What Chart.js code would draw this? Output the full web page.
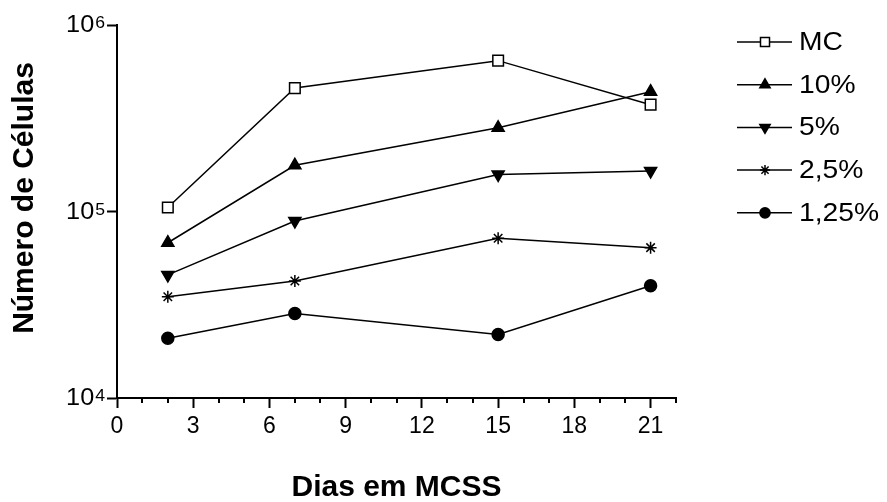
<!DOCTYPE html>
<html>
<head>
<meta charset="utf-8">
<script src="https://cdn.jsdelivr.net/npm/chart.js@4.4.0/dist/chart.umd.min.js"></script>
<style>
  html, body { margin: 0; padding: 0; background: #fff; }
  #wrap { width: 887px; height: 502px; }
</style>
</head>
<body>
<div id="wrap"><canvas id="cells"></canvas></div>
<script>
// days in culture and cell counts per condition
const dias = [2, 7, 15, 21];
const mc = [105000, 459000, 644000, 374000];
const p10 = [68000, 177000, 281000, 439000];
const p5 = [45700, 89000, 158000, 165000];
const p25 = [34900, 42400, 71800, 64000];
const p125 = [20900, 28400, 21900, 40000];

const nomes = ['MC', '10%', '5%', '2,5%', '1,25%'];
const xMajor = [0, 3, 6, 9, 12, 15, 18, 21];
const yDecadas = [1e4, 1e5, 1e6];

const FONT = '"Liberation Sans", Arial, Helvetica, sans-serif';

function pontos(vals) {
    return dias.map((d, i) => ({ x: d, y: vals[i] }));
}

// text slightly widened, like the original export
function textoLargo(ctx, txt, x, y, sx) {
    ctx.save();
    ctx.translate(x, y);
    ctx.scale(sx, 1);
    ctx.fillText(txt, 0, 0);
    ctx.restore();
}

const estilos = [
    { pointStyle: 'rect', radius: 7.5, rotation: 0, fill: '#fff' },
    { pointStyle: 'triangle', radius: 7, rotation: 0, fill: '#000' },
    { pointStyle: 'triangle', radius: 7, rotation: 180, fill: '#000' },
    { pointStyle: 'star', radius: 6, rotation: 0, fill: '#000' },
    { pointStyle: 'circle', radius: 6, rotation: 0, fill: '#000' }
];

const datasets = [mc, p10, p5, p25, p125].map((vals, i) => ({
    label: nomes[i],
    data: pontos(vals),
    borderColor: '#000',
    borderWidth: 1.5,
    backgroundColor: estilos[i].fill,
    pointStyle: estilos[i].pointStyle,
    pointRotation: estilos[i].rotation,
    pointRadius: estilos[i].radius,
    pointHoverRadius: estilos[i].radius,
    pointBackgroundColor: estilos[i].fill,
    pointBorderColor: '#000',
    pointBorderWidth: 1.5,
    tension: 0,
    fill: false
}));

// y labels as 10 with a raised exponent, minor x ticks, axis titles and the legend
const extras = {
    id: 'extras',
    afterDraw(chart) {
        const ctx = chart.ctx;
        const y = chart.scales.y;
        const x = chart.scales.x;
        const area = chart.chartArea;
        ctx.save();
        ctx.fillStyle = '#000';
        ctx.strokeStyle = '#000';

        yDecadas.forEach(v => {
            const py = y.getPixelForValue(v);
            const exp = String(Math.round(Math.log10(v)));
            ctx.font = '16px ' + FONT;
            const we = ctx.measureText(exp).width * 1.1;
            ctx.textAlign = 'right';
            ctx.textBaseline = 'top';
            textoLargo(ctx, exp, area.left - 12, py - 9, 1.1);
            ctx.font = '23px ' + FONT;
            ctx.textBaseline = 'middle';
            textoLargo(ctx, '10', area.left - 13 - we, py + 1, 1.1);
        });

        ctx.lineWidth = 2;
        for (let d = 0; d <= 22; d++) {
            if (xMajor.includes(d)) continue;
            const px = Math.round(x.getPixelForValue(d));
            ctx.beginPath();
            ctx.moveTo(px, area.bottom);
            ctx.lineTo(px, area.bottom + 5);
            ctx.stroke();
        }

        ctx.font = 'bold 30px ' + FONT;
        ctx.textAlign = 'center';
        ctx.textBaseline = 'middle';
        ctx.fillText('Dias em MCSS', (area.left + area.right) / 2, 488);
        ctx.save();
        ctx.translate(25, 198);
        ctx.rotate(-Math.PI / 2);
        ctx.fillText('Número de Células', 0, 0);
        ctx.restore();

        ctx.font = '25px ' + FONT;
        ctx.textAlign = 'left';
        chart.data.datasets.forEach((ds, i) => {
            const ly = 42 + i * 42.7;
            ctx.lineWidth = 1.5;
            ctx.beginPath();
            ctx.moveTo(737, ly);
            ctx.lineTo(792, ly);
            ctx.stroke();
            ctx.fillStyle = ds.pointBackgroundColor;
            Chart.helpers.drawPoint(ctx, {
                pointStyle: ds.pointStyle,
                rotation: ds.pointRotation,
                radius: ds.pointRadius * 0.85,
                borderWidth: 1.5
            }, 765, ly);
            ctx.fillStyle = '#000';
            textoLargo(ctx, ds.label, 799, ly + 1, 1.13);
        });
        ctx.restore();
    }
};

new Chart(document.getElementById('cells'), {
    type: 'line',
    data: { datasets: datasets },
    options: {
        responsive: true,
        maintainAspectRatio: false,
        animation: false,
        events: [],
        layout: { padding: { top: 25, right: 211, bottom: 0, left: 0 } },
        plugins: {
            legend: { display: false },
            tooltip: { enabled: false }
        },
        scales: {
            x: {
                type: 'linear',
                min: 0,
                max: 22,
                afterFit: s => { s.height = 104; },
                border: { display: true, color: '#000', width: 2 },
                grid: {
                    drawOnChartArea: false,
                    drawTicks: true,
                    tickLength: 10,
                    tickWidth: 2,
                    tickColor: c => xMajor.includes(c.tick.value) ? '#000' : 'rgba(0,0,0,0)'
                },
                ticks: {
                    stepSize: 1,
                    autoSkip: false,
                    maxRotation: 0,
                    padding: 5,
                    color: '#000',
                    font: { family: FONT, size: 23 },
                    callback: v => xMajor.includes(v) ? String(v) : ''
                }
            },
            y: {
                type: 'logarithmic',
                min: 1e4,
                max: 1e6,
                afterFit: s => { s.width = 117; },
                afterBuildTicks: s => { s.ticks = yDecadas.map(v => ({ value: v })); },
                border: { display: true, color: '#000', width: 2 },
                grid: {
                    drawOnChartArea: false,
                    drawTicks: true,
                    tickLength: 10,
                    tickWidth: 2,
                    tickColor: '#000'
                },
                ticks: { display: false }
            }
        }
    },
    plugins: [extras]
});
</script>
</body>
</html>
